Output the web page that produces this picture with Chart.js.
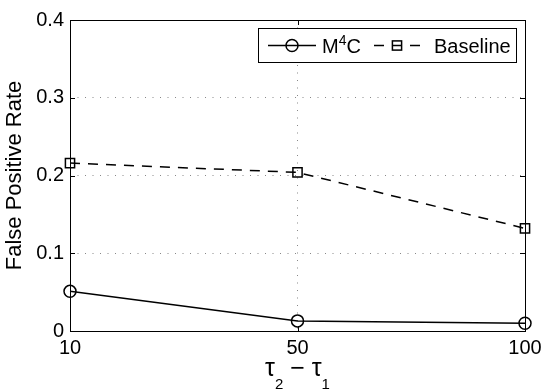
<!DOCTYPE html>
<html>
<head>
<meta charset="utf-8">
<script src="https://cdn.jsdelivr.net/npm/chart.js@4.4.0/dist/chart.umd.min.js"></script>
<style>
  html, body { margin: 0; padding: 0; background: #fff; }
</style>
</head>
<body>
<canvas id="grafik" width="548" height="392"></canvas>
<script>
// veriler
var kategoriler = ["10", "50", "100"];
var m4cDegerleri = [0.051, 0.013, 0.010];
var baselineDegerleri = [0.216, 0.204, 0.132];
var yTikleri = [0, 0.1, 0.2, 0.3, 0.4];
var seriAdlari = ["M^4C", "Baseline"];
var xBaslik = "τ_2 − τ_1";
var yBaslik = "False Positive Rate";

var yaziTipi = "'Liberation Sans', Arial, Helvetica, sans-serif";

/* ^x ust simge, _x alt simge olarak cizilir */
function zenginMetin(ctx, metin, x, y, boyut, ortala, kucukBoyut, yukari, asagi) {
  var parcalar = [];
  var normal = "";
  for (var i = 0; i < metin.length; i++) {
    var c = metin[i];
    if ((c == "^" || c == "_") && i + 1 < metin.length) {
      if (normal) { parcalar.push({t: normal, tip: ""}); normal = ""; }
      parcalar.push({t: metin[i + 1], tip: c});
      i++;
    } else {
      normal += c;
    }
  }
  if (normal) parcalar.push({t: normal, tip: ""});

  var toplam = 0;
  for (var j = 0; j < parcalar.length; j++) {
    ctx.font = (parcalar[j].tip ? kucukBoyut : boyut) + "px " + yaziTipi;
    parcalar[j].w = ctx.measureText(parcalar[j].t).width;
    toplam += parcalar[j].w;
  }
  var px = ortala ? x - toplam / 2 : x;
  ctx.textAlign = "left";
  ctx.textBaseline = "alphabetic";
  for (var k = 0; k < parcalar.length; k++) {
    var p = parcalar[k];
    ctx.font = (p.tip ? kucukBoyut : boyut) + "px " + yaziTipi;
    var py = y;
    if (p.tip == "^") py = y - yukari;
    if (p.tip == "_") py = y + asagi;
    ctx.fillText(p.t, px, py);
    px += p.w;
  }
}

var cerceve = {
  id: "cerceve",
  beforeDatasetsDraw: function (chart) {
    var ctx = chart.ctx;
    var a = chart.chartArea;
    var sx = chart.scales.x;
    var sy = chart.scales.y;
    ctx.save();
    ctx.strokeStyle = "#000";
    ctx.lineWidth = 1;
    ctx.setLineDash([]);
    ctx.strokeRect(Math.round(a.left) + 0.5, Math.round(a.top) + 0.5,
      Math.round(a.right - a.left), Math.round(a.bottom - a.top));
    // icteki tik cizgileri
    ctx.beginPath();
    sy.ticks.forEach(function (t) {
      var py = Math.round(sy.getPixelForValue(t.value)) + 0.5;
      ctx.moveTo(a.left, py); ctx.lineTo(a.left + 5, py);
      ctx.moveTo(a.right, py); ctx.lineTo(a.right - 5, py);
    });
    sx.ticks.forEach(function (t, i) {
      var px = Math.round(sx.getPixelForTick(i)) + 0.5;
      ctx.moveTo(px, a.bottom); ctx.lineTo(px, a.bottom - 5);
      ctx.moveTo(px, a.top); ctx.lineTo(px, a.top + 5);
    });
    ctx.stroke();
    ctx.restore();
  },
  afterDraw: function (chart) {
    var ctx = chart.ctx;
    var a = chart.chartArea;
    ctx.save();
    ctx.fillStyle = "#000";

    // x ekseni basligi
    zenginMetin(ctx, xBaslik, (a.left + a.right) / 2, 376, 25, true, 15, 0, 13);

    // lejant
    var kutuX = 258, kutuY = 28, kutuW = 258, kutuH = 34;
    ctx.fillStyle = "#fff";
    ctx.fillRect(kutuX, kutuY, kutuW, kutuH);
    ctx.strokeStyle = "#000";
    ctx.lineWidth = 1;
    ctx.strokeRect(kutuX + 0.5, kutuY + 0.5, kutuW, kutuH);

    var ly = 45.5;
    var ds = chart.data.datasets;

    // M4C ornegi
    ctx.lineWidth = ds[0].borderWidth;
    ctx.setLineDash([]);
    ctx.beginPath();
    ctx.moveTo(268, ly); ctx.lineTo(316, ly);
    ctx.stroke();
    ctx.beginPath();
    ctx.arc(292, ly, ds[0].pointRadius, 0, Math.PI * 2);
    ctx.stroke();
    ctx.fillStyle = "#000";
    zenginMetin(ctx, ds[0].label, 322, 53, 20, false, 14, 8, 0);

    // Baseline ornegi
    ctx.lineWidth = ds[1].borderWidth;
    ctx.setLineDash(ds[1].borderDash);
    ctx.beginPath();
    ctx.moveTo(374, ly); ctx.lineTo(421, ly);
    ctx.stroke();
    ctx.setLineDash([]);
    var s = ds[1].pointRadius * Math.SQRT1_2;
    ctx.strokeRect(397 - s, ly - s, 2 * s, 2 * s);
    zenginMetin(ctx, ds[1].label, 434, 53, 20, false, 14, 8, 0);

    ctx.restore();
  }
};

var ctx = document.getElementById("grafik");
var grafik = new Chart(ctx, {
  type: "line",
  data: {
    labels: kategoriler,
    datasets: [{
      label: seriAdlari[0],
      data: m4cDegerleri,
      borderColor: "#000",
      backgroundColor: "rgba(0,0,0,0)",
      borderWidth: 1.5,
      pointStyle: "circle",
      pointRadius: 6,
      pointBorderWidth: 1.5,
      pointBackgroundColor: "rgba(0,0,0,0)",
      pointBorderColor: "#000",
      tension: 0,
      clip: false
    }, {
      label: seriAdlari[1],
      data: baselineDegerleri,
      borderColor: "#000",
      backgroundColor: "rgba(0,0,0,0)",
      borderWidth: 1.5,
      borderDash: [10, 8],
      pointStyle: "rect",
      pointRadius: 6.5,
      pointBorderWidth: 1.5,
      pointBackgroundColor: "rgba(0,0,0,0)",
      pointBorderColor: "#000",
      tension: 0,
      clip: false
    }]
  },
  options: {
    responsive: false,
    animation: false,
    devicePixelRatio: 1,
    layout: { padding: { top: 20, right: 23, left: 0, bottom: 0 } },
    plugins: {
      legend: { display: false },
      tooltip: { enabled: false }
    },
    scales: {
      x: {
        type: "category",
        offset: false,
        grid: { color: "#888", lineWidth: 1, drawTicks: false },
        border: { display: false, dash: [1, 6.5] },
        ticks: {
          color: "#000",
          padding: 5,
          maxRotation: 0,
          font: { family: yaziTipi, size: 20 }
        },
        afterFit: function (s) { s.height = 61; }
      },
      y: {
        min: 0,
        max: 0.4,
        grid: { color: "#888", lineWidth: 1, drawTicks: false },
        border: { display: false, dash: [1, 6.5] },
        afterBuildTicks: function (s) {
          s.ticks = yTikleri.map(function (v) { return {value: v}; });
        },
        ticks: {
          color: "#000",
          padding: 6,
          font: { family: yaziTipi, size: 20 },
          callback: function (v) { return String(v); }
        },
        title: {
          display: true,
          text: yBaslik,
          color: "#000",
          padding: { top: 2, bottom: 0 },
          font: { family: yaziTipi, size: 22 }
        },
        afterFit: function (s) { s.width = 70; }
      }
    }
  },
  plugins: [cerceve]
});
</script>
</body>
</html>
